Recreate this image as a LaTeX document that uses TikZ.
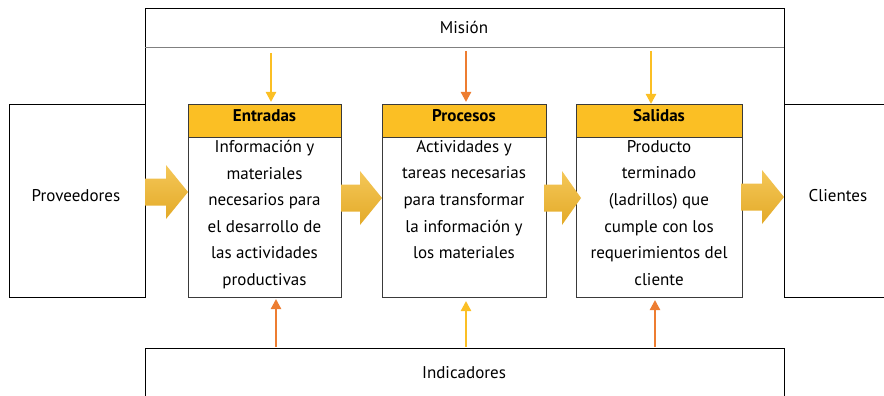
\documentclass[tikz,border=0pt]{standalone}
\usepackage{fontspec}
\setmainfont{PT Sans}
\usetikzlibrary{arrows.meta}
\definecolor{gold}{HTML}{FBBF24}
\definecolor{blk}{HTML}{F2B92E}
\definecolor{blkd}{HTML}{E3AA28}
\definecolor{yel}{HTML}{FBBF24}
\definecolor{ora}{HTML}{ED7D31}
\definecolor{edge}{HTML}{3A3A3A}
\newcommand{\blkarrow}[4]{% x0, headstart, tip, yc
  \shade[top color=blk!80!white, bottom color=blkd]
    (#1,#4-13.5) -- (#2,#4-13.5) -- (#2,#4-27) -- (#3,#4) -- (#2,#4+27) -- (#2,#4+13.5) -- (#1,#4+13.5) -- cycle;}
\begin{document}
\begin{tikzpicture}[x=1pt,y=-1pt,
  txt/.style={font=\fontsize{17}{26.6}\selectfont, inner sep=0pt},
  body/.style={txt, align=center, anchor=north},
  head/.style={font=\bfseries\fontsize{17}{18}\selectfont, inner sep=0pt},
  hdr/.style={draw=edge, fill=gold, line width=0.9pt},
  boxed/.style={draw=edge, fill=white, line width=0.9pt},
  thin/.style={line width=2.2pt, -{Triangle[width=10pt,length=10pt]}},
  outer/.style={draw=black, line width=0.9pt}]
\useasboundingbox (0,0) rectangle (884,396);
% Mision frame
\draw[outer] (145,104) -- (145,8) -- (784,8) -- (784,104);
\draw[gray, line width=1pt] (145,48) -- (784,48);
\node[txt] (mision) at (464,27) {Misión};
% Proveedores / Clientes
\draw[outer] (9,104) rectangle (145,297);
\node[txt] (prov) at (76,196) {Proveedores};
\draw[outer] (884,104) -- (784,104) -- (784,297) -- (884,297);
\node[txt] (cli) at (838,196) {Clientes};
% Indicadores
\draw[outer] (145,396) -- (145,348) -- (784,348) -- (784,396);
\node[txt] (ind) at (464,373) {Indicadores};
% Boxes
\draw[boxed] (188,137) rectangle (341,297);
\draw[hdr] (188,104) rectangle (341,137);
\node[head] (ent) at (264.5,116) {Entradas};
\node[body] (entb) at (264.5,140) {Información y\\materiales\\necesarios para\\el desarrollo de\\las actividades\\productivas};
\draw[boxed] (382,137) rectangle (546,297);
\draw[hdr] (382,104) rectangle (546,137);
\node[head] (pro) at (464,116) {Procesos};
\node[body] (prob) at (464,140) {Actividades y\\tareas necesarias\\para transformar\\la información y\\los materiales};
\draw[boxed] (576,137) rectangle (742,297);
\draw[hdr] (576,104) rectangle (742,137);
\node[head] (sal) at (659,116) {Salidas};
\node[body] (salb) at (659,140) {Producto\\terminado\\(ladrillos) que\\cumple con los\\requerimientos del\\cliente};
% block arrows
\blkarrow{145}{166}{188}{192}
\blkarrow{341}{360}{382}{198}
\blkarrow{544}{562}{581}{198}
\blkarrow{741}{762}{784}{197}
% thin arrows
\coordinate (t1) at (271,53); \coordinate (t2) at (466,51); \coordinate (t3) at (651,51);
\draw[thin, yel] (t1) -- (271,102);
\draw[thin, ora] (t2) -- (466,102);
\draw[thin, yel] (t3) -- (651,104);
\coordinate (b1) at (276,347); \coordinate (b2) at (466,347); \coordinate (b3) at (655,347);
\draw[thin, ora] (b1) -- (276,299);
\draw[thin, yel] (b2) -- (466,301);
\draw[thin, ora] (b3) -- (655,300);
\end{tikzpicture}
\end{document}
